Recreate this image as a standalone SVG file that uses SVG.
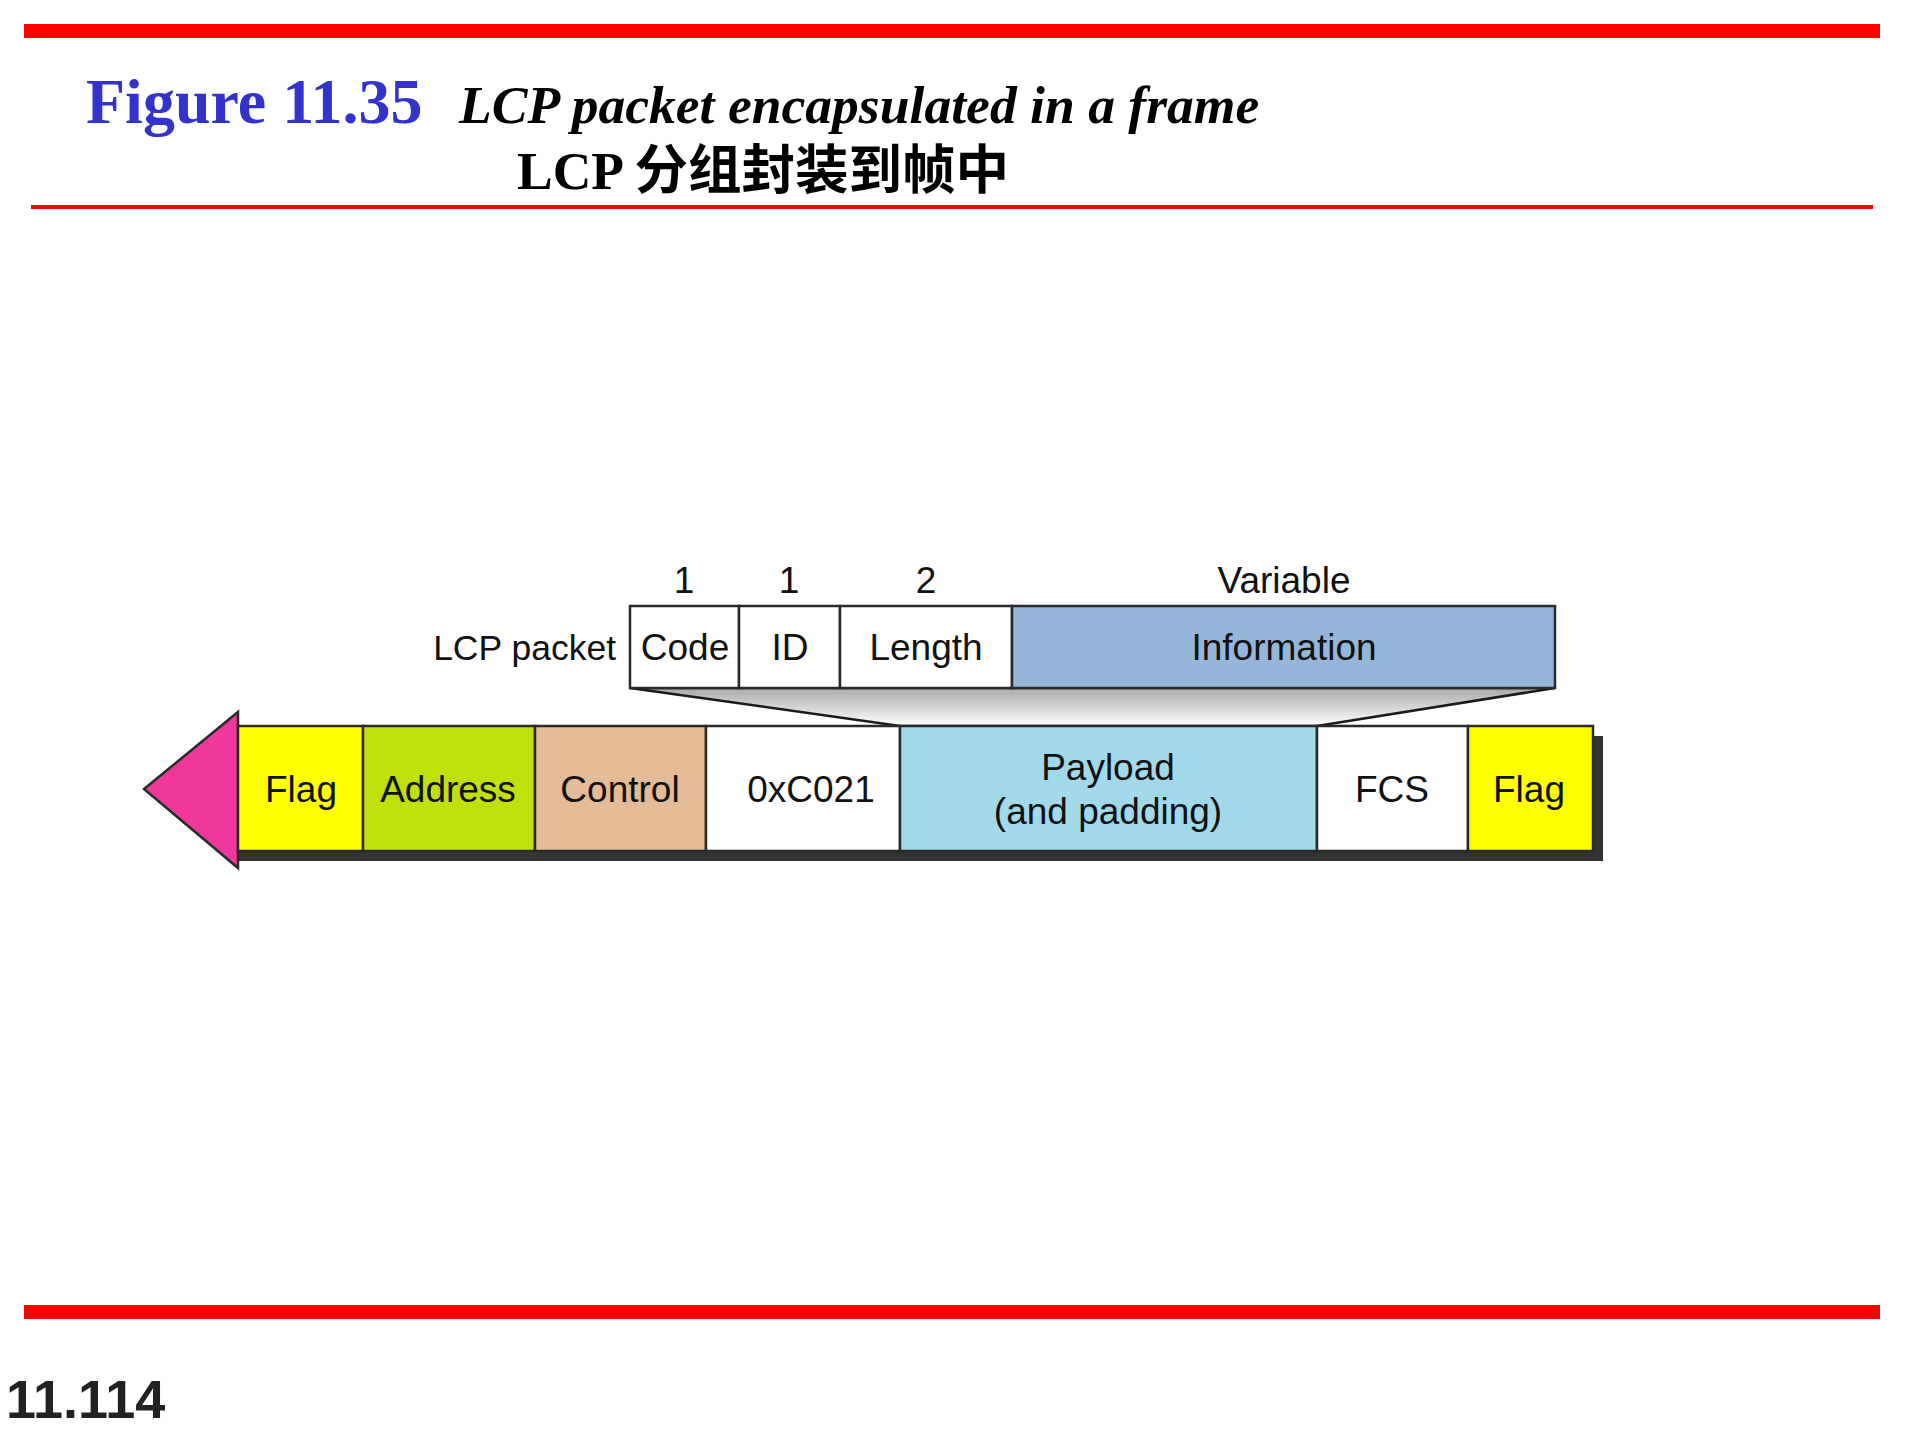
<svg xmlns="http://www.w3.org/2000/svg" width="1920" height="1440" viewBox="0 0 1920 1440">
<defs>
<linearGradient id="funnel" x1="0" y1="0" x2="0" y2="1">
<stop offset="0" stop-color="#a9a9a9"/>
<stop offset="1" stop-color="#ffffff"/>
</linearGradient>
<style>
.lbl{font-family:"Liberation Sans",Arial,sans-serif;font-size:37px;fill:#111;text-anchor:middle}
.box{stroke:#2a2a2a;stroke-width:2.5}
</style>
</defs>
<rect width="1920" height="1440" fill="#ffffff"/>
<g id="header">
<rect x="24" y="24" width="1856" height="14" fill="#ff0000"/>
<text x="86" y="123" font-family="'Liberation Serif','Times New Roman',serif" font-size="64" font-weight="bold" fill="#3333cc">Figure 11.35</text>
<text x="459" y="123" font-family="'Liberation Serif','Times New Roman',serif" font-size="53.6" font-weight="bold" font-style="italic" fill="#000">LCP packet encapsulated in a frame</text>
<text x="517" y="189" font-family="'Liberation Serif','Noto Sans CJK SC',serif" font-size="53.5" font-weight="bold" fill="#000">LCP 分组封装到帧中</text>
<rect x="31" y="205" width="1842" height="4" fill="#ff0000"/>
</g>
<g id="connectors">
<polygon points="630,688 1555,688 1317,726 900,726" fill="url(#funnel)" stroke="#1a1a1a" stroke-width="2.5"/>
</g>
<g id="lcp-packet">
<text class="lbl" x="616" y="660" style="text-anchor:end;font-size:35.5px">LCP packet</text>
<text class="lbl" x="684" y="593">1</text>
<text class="lbl" x="789" y="593">1</text>
<text class="lbl" x="926" y="593">2</text>
<text class="lbl" x="1284" y="593">Variable</text>
<g id="code"><rect class="box" x="630" y="606" width="109" height="82" fill="#ffffff"/><text class="lbl" x="685" y="660">Code</text></g>
<g id="id"><rect class="box" x="739" y="606" width="101" height="82" fill="#ffffff"/><text class="lbl" x="790" y="660">ID</text></g>
<g id="length"><rect class="box" x="840" y="606" width="172" height="82" fill="#ffffff"/><text class="lbl" x="926" y="660">Length</text></g>
<g id="information"><rect class="box" x="1012" y="606" width="543" height="82" fill="#94b6d8"/><text class="lbl" x="1284" y="660">Information</text></g>
</g>
<g id="frame">
<rect x="238" y="736" width="1365" height="125" fill="#333333"/>
<polygon id="arrow" points="238,712 238,868 144,789" fill="#f0389c" stroke="#2a2a2a" stroke-width="2.5" stroke-linejoin="miter"/>
<g id="flag1"><rect class="box" x="238" y="726" width="125" height="125" fill="#ffff00"/><text class="lbl" x="301" y="802">Flag</text></g>
<g id="address"><rect class="box" x="363" y="726" width="172" height="125" fill="#c0e00c"/><text class="lbl" x="448" y="802">Address</text></g>
<g id="control"><rect class="box" x="535" y="726" width="171" height="125" fill="#e3bb96"/><text class="lbl" x="620" y="802">Control</text></g>
<g id="protocol"><rect class="box" x="706" y="726" width="194" height="125" fill="#ffffff"/><text class="lbl" x="811" y="802">0xC021</text></g>
<g id="payload"><rect class="box" x="900" y="726" width="417" height="125" fill="#a1d9ea"/><text class="lbl" x="1108" y="780">Payload</text><text class="lbl" x="1108" y="824">(and padding)</text></g>
<g id="fcs"><rect class="box" x="1317" y="726" width="151" height="125" fill="#ffffff"/><text class="lbl" x="1392" y="802">FCS</text></g>
<g id="flag2"><rect class="box" x="1468" y="726" width="125" height="125" fill="#ffff00"/><text class="lbl" x="1529" y="802">Flag</text></g>
</g>
<g id="footer">
<rect x="24" y="1305" width="1856" height="14" fill="#ff0000"/>
<text x="6" y="1418" font-family="'Liberation Sans',Arial,sans-serif" font-size="54" font-weight="bold" fill="#222">11.114</text>
</g>
</svg>
